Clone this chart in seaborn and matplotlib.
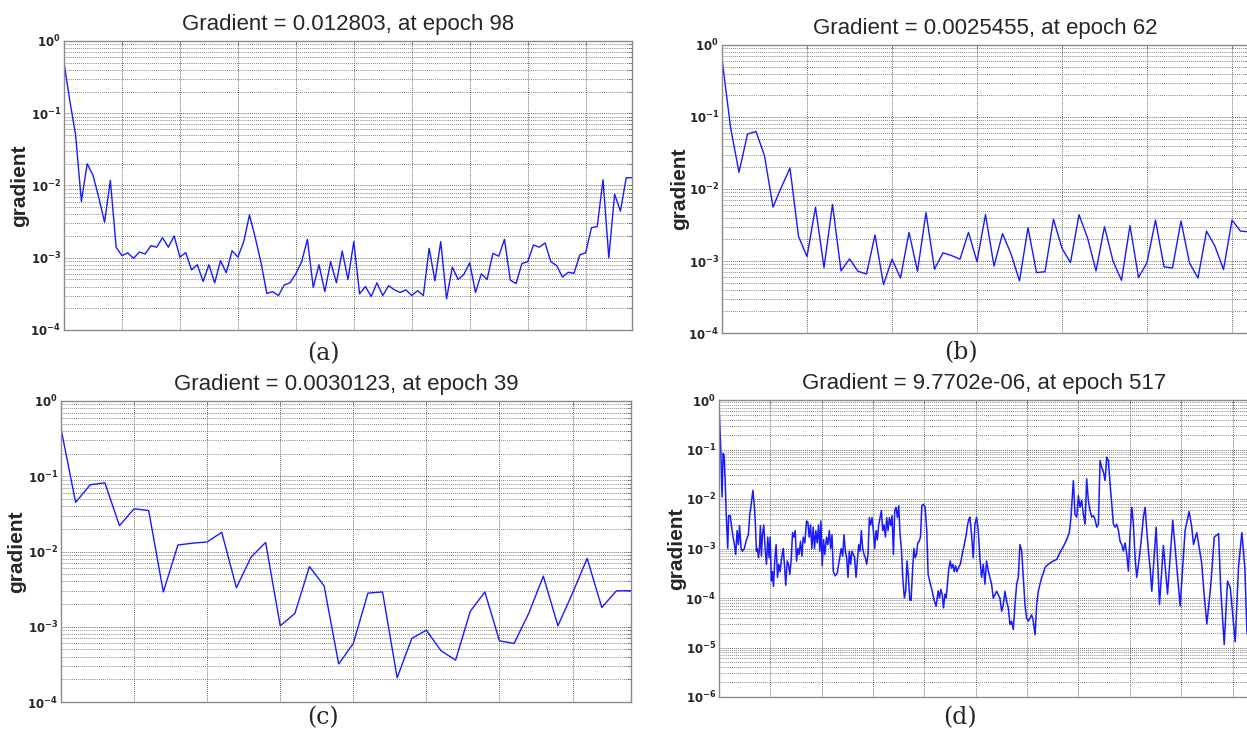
import matplotlib
matplotlib.use('Agg')
import matplotlib.pyplot as plt
from matplotlib.ticker import MultipleLocator, NullFormatter, LogLocator, FuncFormatter
import numpy as np
import pandas as pd
import seaborn as sns

# ---------------- data ----------------
# (a) 99 epochs
a_grad = [0.5, 0.15, 0.05, 0.006, 0.02, 0.0139, 0.0068, 0.0031, 0.0118, 0.00139,
          0.00107, 0.00117, 0.00098, 0.0012, 0.00113, 0.00147, 0.0014, 0.0019, 0.0014, 0.002,
          0.00102, 0.00118, 0.00068, 0.0008, 0.00047, 0.0008, 0.00045, 0.00091, 0.00062, 0.00125,
          0.00102, 0.00166, 0.0039, 0.0019, 0.00085, 0.00032, 0.00034, 0.0003, 0.00042, 0.00045,
          0.0006, 0.00088, 0.0018, 0.00039, 0.0008, 0.00034, 0.00088, 0.00045, 0.00124, 0.0005,
          0.00167, 0.000316, 0.0004, 0.00029, 0.00045, 0.0003, 0.00041, 0.00036, 0.00033, 0.00036,
          0.0003, 0.00035, 0.0003, 0.00135, 0.00048, 0.00167, 0.00027, 0.00074, 0.0005, 0.00059,
          0.00085, 0.00033, 0.0006, 0.0005, 0.00115, 0.00105, 0.0018, 0.00049, 0.00044, 0.00083,
          0.00088, 0.0015, 0.0014, 0.0016, 0.00088, 0.00078, 0.00054, 0.00063, 0.00061, 0.0011,
          0.00117, 0.0026, 0.0027, 0.012, 0.001, 0.0076, 0.0044, 0.0128, 0.012803]

# (b) 63 epochs
b_grad = [0.65, 0.072, 0.017, 0.058, 0.063, 0.029, 0.0056, 0.0107, 0.0195, 0.0022,
          0.00115, 0.0056, 0.00081, 0.0061, 0.00073, 0.00107, 0.00072, 0.00066, 0.0023, 0.00047,
          0.00106, 0.00058, 0.0025, 0.00072, 0.0047, 0.00077, 0.0013, 0.00119, 0.00106, 0.0025,
          0.00098, 0.0044, 0.00085, 0.0024, 0.00126, 0.00053, 0.0029, 0.00069, 0.00071, 0.0038,
          0.0015, 0.00095, 0.0044, 0.0021, 0.00073, 0.003, 0.001, 0.00054, 0.0031, 0.00059,
          0.00095, 0.0037, 0.00083, 0.0008, 0.0036, 0.00094, 0.00058, 0.0026, 0.0016, 0.00076,
          0.0037, 0.0026, 0.0025455]

# (c) 40 epochs
c_grad = [0.43, 0.045, 0.077, 0.082, 0.022, 0.037, 0.035, 0.0029, 0.0122, 0.0129,
          0.0134, 0.018, 0.0033, 0.0084, 0.0132, 0.00103, 0.0015, 0.0063, 0.0035, 0.00032,
          0.0006, 0.0028, 0.0029, 0.00021, 0.0007, 0.0009, 0.00048, 0.00036, 0.0016, 0.0029,
          0.00065, 0.0006, 0.0015, 0.0047, 0.00103, 0.0028, 0.0081, 0.0018, 0.003, 0.0030123]

# (d) 518 epochs, sampled at the visible turning points
d_epoch = [0, 0.7, 1.6, 3, 4, 5, 6, 7, 8.5, 9.4, 11, 12.4, 13.7, 15, 16.3, 17.6, 18.9, 20,
           21.5, 22.8, 24.7, 26.7, 28.6, 30, 31, 33, 34.5, 35.5, 36.4, 37.4, 38.4, 39.4, 40.3,
           41.3, 42.3, 43.6, 44.9, 46.2, 47.5, 48.8, 49.8, 51, 52, 53, 54.3, 55.6, 57, 58.2,
           59.5, 60.8, 62.5, 63.8, 65, 66.4, 67.7, 69, 70.3, 71.6, 72.9, 74.2, 75.5, 76.8, 78,
           79.4, 80.7, 82, 83.6, 85.2, 86.5, 87.8, 89.1, 90.4, 91.7, 93, 94.3, 95.6, 96.9, 98.2,
           99.2, 100.5, 101.8, 103, 104.7, 106, 107.4, 108.7, 110, 111.3, 113.2, 115.2, 117,
           119, 120.4, 121.7, 123, 124.3, 125.6, 126.9, 128.2, 129.5, 130.8, 132, 133.4, 134.7,
           136, 137.3, 138.6, 139.9, 141.2, 142.5, 143.8, 145.1, 146.4, 147.7, 149, 150.3,
           151.6, 152.9, 154.2, 155.5, 156.8, 158.1, 159.4, 160.7, 162, 163.3, 164.6, 165.9,
           167.2, 168.5, 169.8, 171.1, 172.4, 173.7, 175, 176.3, 177.6, 178.9, 180.5, 181.8,
           183.1, 184.4, 185.8, 187, 188.4, 189.7, 191, 192.3, 193.5, 194.9, 196.2, 197.5,
           199.1, 200.7, 202.3, 203.6, 205.6, 207.5, 209.5, 211.4, 213.4, 214.7, 216, 217.3,
           218.6, 220, 221.2, 222.5, 223.8, 225.1, 226.4, 227.7, 229, 230.3, 231.6, 232.9,
           234.9, 236.8, 238.8, 240.7, 242, 243.3,
           244.3, 245.9, 247.5, 249.2, 250.8, 252.4, 254, 255.7, 257.3, 258.9, 260.5, 262.2,
           263.8, 265.4, 267, 268.7, 270.3, 271.9, 273.5, 275.2, 276.8, 278.4, 280, 281.7,
           283.3, 284.9, 286.5, 288.2, 289.8, 291.4, 293, 294.7, 296.3, 297.9, 299.5, 301.2,
           302.8, 304.4, 306, 307.7, 309.3, 310.9, 312.5, 314.2, 315.8, 317.4, 319, 320.7,
           322.3, 325.5, 328.8, 332, 335.3, 338.5, 341.1, 342.7, 345, 346.6, 348.3, 349.9,
           351.5, 353.1, 354.8, 356.4, 358, 359.6, 361.3, 362.9, 364.5, 366.1, 367.8, 369.4,
           371, 372.6, 374.3, 375.9, 377.5, 379.1, 380.8, 382.4, 384, 385.6, 387.3, 388.9,
           390.5, 392.1, 393.7, 395.4, 397, 398.6, 400.2, 401.9, 403.5, 405.1, 406.7, 408.4,
           410, 411.6, 413.2, 414.9, 416.5, 418.1, 419.7, 421.4, 425.6, 428.9, 432.7, 436.7,
           441.8, 449, 453.8, 457.7, 460.3, 462, 465.2, 470, 472.3, 475, 478.9, 482.2, 486.4,
           488.6, 491.9, 495.1, 497.8, 502.6, 505.8, 509.1, 512, 514, 517]
d_grad = [0.73, 0.35, 0.12, 0.011, 0.083, 0.076, 0.024, 0.005, 0.001, 0.0046, 0.0046, 0.0026,
          0.0017, 0.0012, 0.00076, 0.0023, 0.0012, 0.0029, 0.001, 0.00088, 0.001, 0.0015,
          0.0019, 0.0049, 0.0068, 0.015, 0.0068, 0.003, 0.00088, 0.001, 0.00065, 0.001, 0.0029,
          0.0007, 0.0019, 0.003, 0.001, 0.00048, 0.0017, 0.00065, 0.0017, 0.00022, 0.00034,
          0.00017, 0.00056, 0.0012, 0.00026, 0.00048, 0.00034, 0.0006, 0.001, 0.00045, 0.00018,
          0.00056, 0.00048, 0.0003, 0.0006, 0.0021, 0.0017, 0.0023, 0.00056, 0.001, 0.00076,
          0.0014, 0.0007, 0.0017, 0.0013, 0.0036, 0.0034, 0.0017, 0.003, 0.001, 0.0027, 0.001,
          0.0023, 0.0013, 0.003, 0.00088, 0.0036, 0.00045, 0.0015, 0.00076, 0.0017, 0.0012,
          0.0023, 0.001, 0.0019, 0.00034, 0.00028, 0.00032, 0.00056, 0.001, 0.0007, 0.0019,
          0.00088, 0.00065, 0.00026, 0.00088, 0.00048, 0.00088, 0.00076, 0.00065, 0.00026,
          0.00056, 0.0012, 0.00088, 0.0023, 0.001, 0.00076, 0.00065, 0.00048, 0.00076, 0.0042,
          0.003, 0.0042, 0.0023, 0.001, 0.0023, 0.0015, 0.003, 0.0042, 0.0058, 0.0023, 0.003,
          0.0017, 0.0042, 0.0023, 0.0042, 0.0029, 0.0046, 0.00076, 0.0058, 0.0068, 0.0042,
          0.0073, 0.0019, 0.001, 0.00026, 0.0001, 0.00014, 0.00056, 0.00026, 0.00009, 0.00009,
          0.00034, 0.001, 0.00065, 0.00076, 0.0013, 0.0014, 0.0017, 0.0073, 0.0078, 0.0068,
          0.0023, 0.0003, 0.0002, 0.00014, 0.00009, 0.000068, 0.00014, 0.0001, 0.00015, 0.00012,
          0.000063, 0.00012, 0.0001, 0.0002, 0.0004, 0.00056, 0.0004, 0.00048, 0.00034,
          0.00045, 0.00034, 0.0004, 0.00048, 0.00076, 0.0012, 0.0019, 0.003, 0.0039,
          0.0043, 0.0019, 0.00065, 0.0031, 0.0043, 0.0023, 0.00065, 0.00026, 0.00048, 0.00019,
          0.00056, 0.00035, 0.00026, 0.00019, 0.0001, 0.000117, 0.000137, 0.000117, 0.0001,
          0.000054, 0.000073, 0.000137, 0.000086, 0.000063, 0.000029, 0.000034, 0.000023,
          0.000073, 0.00019, 0.00026, 0.0012, 0.00089, 0.00026, 0.000073, 0.000039, 0.000034,
          0.000039, 0.000046, 0.000034, 0.000018, 0.000073, 0.000137, 0.00019, 0.00026,
          0.00032, 0.00041, 0.00045, 0.00048, 0.00051, 0.00056, 0.0006, 0.00083, 0.0011,
          0.0015, 0.0021, 0.0043, 0.0235, 0.0049, 0.0043, 0.0117, 0.0068, 0.0093, 0.0049,
          0.0031, 0.0256, 0.0093, 0.0058, 0.0043, 0.0046, 0.0039, 0.0027, 0.0031, 0.06, 0.044,
          0.035, 0.0235, 0.07, 0.06, 0.02, 0.0079, 0.0031, 0.0027, 0.0031, 0.0023, 0.0014,
          0.0012, 0.00089, 0.0013, 0.00076, 0.00035, 0.0019, 0.0068, 0.0031, 0.00065, 0.00026,
          0.00048, 0.00089, 0.0019, 0.0043, 0.0068, 0.0023, 0.00089, 0.00041, 0.000137,
          0.0027, 0.000074, 0.00115, 0.00012, 0.0037, 0.000069, 0.0023, 0.0056, 0.0027, 0.0012,
          0.0021, 0.0005, 0.00012, 0.00003, 0.00019, 0.0017, 0.002, 0.00014, 0.0000115,
          0.00022, 0.00016, 0.000013, 0.00042, 0.0021, 0.0004, 0.000021, 0.0000097702]

panels = [
    ("(a)", "Gradient = 0.012803, at epoch 98", list(range(len(a_grad))), a_grad, 10, 98, 4),
    ("(b)", "Gradient = 0.0025455, at epoch 62", list(range(len(b_grad))), b_grad, 10, 62, 4),
    ("(c)", "Gradient = 0.0030123, at epoch 39", list(range(len(c_grad))), c_grad, 5, 39, 4),
    ("(d)", "Gradient = 9.7702e-06, at epoch 517", d_epoch, d_grad, 50, 517, 6),
]

# axes boxes in figure pixels (left, top, right, bottom) for a 1247x737 canvas
boxes = [(64, 41, 632, 330), (722, 45, 1249, 333), (61, 401, 631, 702), (719, 400, 1250, 697)]
letter_pos = [(323, 354), (961, 353), (323, 718), (960, 718)]

sns.set_style("white")
plt.rcParams['font.family'] = ['Liberation Sans', 'DejaVu Sans']
plt.rcParams['mathtext.default'] = 'regular'

W, H = 1247, 737
fig = plt.figure(figsize=(W / 100, H / 100), dpi=100)


def decade_label(v, pos):
    e = int(round(np.log10(v)))
    return r'$\mathbf{10^{%d}}$' % e


for (letter, title, xs, ys, xstep, xmax, ndec), (l, t, r, b), (lx, ly) in zip(panels, boxes, letter_pos):
    ax = fig.add_axes([l / W, 1 - b / H, (r - l) / W, (b - t) / H])
    df = pd.DataFrame({"epoch": xs, "gradient": ys})
    sns.lineplot(data=df, x="epoch", y="gradient", ax=ax, color="#1a1aff",
                 linewidth=1.0 if ndec == 4 else 1.1, estimator=None, sort=False)
    ax.set_yscale("log")
    ax.set_ylim(10.0 ** -ndec, 1)
    ax.set_xlim(0, xmax)

    ax.xaxis.set_major_locator(MultipleLocator(xstep))
    ax.xaxis.set_major_formatter(NullFormatter())
    ax.yaxis.set_major_locator(LogLocator(base=10, numticks=20))
    ax.yaxis.set_minor_locator(LogLocator(base=10, subs=np.arange(2, 10), numticks=20))
    ax.yaxis.set_major_formatter(FuncFormatter(decade_label))
    ax.yaxis.set_minor_formatter(NullFormatter())

    ax.grid(True, which="major", axis="both", color="#333333", linestyle=(0, (1, 1.5)), linewidth=0.6)
    ax.grid(True, which="minor", axis="y", color="#5a5a5a", linestyle=(0, (1, 1.5)), linewidth=0.6)
    ax.set_axisbelow(True)

    ax.tick_params(axis="both", which="both", direction="in", color="#777777",
                   top=True, right=True, length=3, width=0.6)
    ax.tick_params(axis="y", which="major", labelsize=8.5, pad=2)
    for sp in ax.spines.values():
        sp.set_color("#8a8a8a")
        sp.set_linewidth(1.0)

    ax.set_xlabel("")
    ax.xaxis.label.set_visible(False)
    ax.set_ylabel("gradient", fontsize=15, fontweight="bold")
    ax.yaxis.set_label_coords(-0.062, 0.5)
    ax.set_title(title, fontsize=16, pad=8)

    fig.text(lx / W, 1 - ly / H, letter, ha="center", va="center",
             fontsize=17, family="DejaVu Serif")

fig.savefig("out.png", dpi=100)
